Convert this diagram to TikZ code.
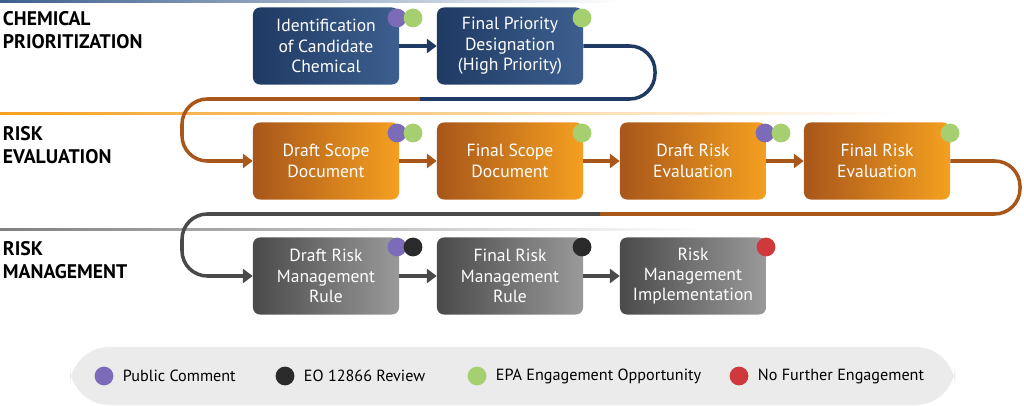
\documentclass[tikz,border=0pt]{standalone}
\usepackage{fontspec}
\setmainfont{PT Sans}
\usetikzlibrary{arrows.meta}
\definecolor{blueA}{HTML}{1F3A63}
\definecolor{blueB}{HTML}{3D5F8F}
\definecolor{orangeA}{HTML}{A8561A}
\definecolor{orangeB}{HTML}{F5A020}
\definecolor{greyA}{HTML}{4A4A4A}
\definecolor{greyB}{HTML}{9A9A9A}
\definecolor{pubcol}{HTML}{7B6BB8}
\definecolor{epacol}{HTML}{A6D06F}
\definecolor{eocol}{HTML}{2A2A2A}
\definecolor{nocol}{HTML}{D0393B}
\tikzset{
    stage/.style={rounded corners=5pt, minimum width=3.65cm, minimum height=1.925cm,
        align=center, text=white, font=\fontsize{12.5}{14.5}\selectfont, shading angle=135},
    blue stage/.style={stage, left color=blueA, right color=blueB},
    orange stage/.style={stage, left color=orangeA, right color=orangeB},
    grey stage/.style={stage, left color=greyA, right color=greyB},
    dot/.style={circle, fill=#1, inner sep=0pt, minimum size=0.47cm},
    flow/.style={line width=2.5pt, rounded corners=18pt, -{Triangle[length=7pt,width=10pt]}},
    head/.style={anchor=north west, align=left, font=\bfseries\fontsize{14}{17}\selectfont},
    legend/.style={anchor=west, font=\fontsize{11.5}{13}\selectfont}
}
\begin{document}
\begin{tikzpicture}[x=0.025cm, y=-0.025cm]
    \useasboundingbox (0, 0) rectangle (1024, 406);

    % section rules
    \shade[left color=blueB, right color=white] (0, 0) rectangle (620, 2.5);
    \shade[left color=orangeB, right color=white] (0, 113) rectangle (900, 115);
    \shade[left color=greyA!70, right color=white] (0, 229) rectangle (700, 231);

    \node[head] (hcp) at (-2, 6) {CHEMICAL\\PRIORITIZATION};
    \node[head] (hre) at (-2, 121) {RISK\\EVALUATION};
    \node[head] (hrm) at (-2, 236) {RISK\\MANAGEMENT};

    % stages
    \node[blue stage] (ident) at (326, 46) {Identification\\of Candidate\\Chemical};
    \node[blue stage] (prio) at (510, 46) {Final Priority\\Designation\\(High Priority)};
    \node[orange stage] (dscope) at (326, 161) {Draft Scope\\Document};
    \node[orange stage] (fscope) at (510, 161) {Final Scope\\Document};
    \node[orange stage] (drisk) at (693, 161) {Draft Risk\\Evaluation};
    \node[orange stage] (frisk) at (877, 161) {Final Risk\\Evaluation};
    \node[grey stage] (drule) at (326, 276) {Draft Risk\\Management\\Rule};
    \node[grey stage] (frule) at (510, 276) {Final Risk\\Management\\Rule};
    \node[grey stage] (impl) at (693, 276) {Risk\\Management\\Implementation};

    % arrows
    \draw[flow, blueA] (ident) -- (prio);
    \draw[flow, orangeA] (dscope) -- (fscope);
    \draw[flow, orangeA] (fscope) -- (drisk);
    \draw[flow, orangeA] (drisk) -- (frisk);
    \draw[flow, greyA] (drule) -- (frule);
    \draw[flow, greyA] (frule) -- (impl);

    \coordinate (t1) at (655, 46);
    \coordinate (t2) at (655, 99);
    \coordinate (tm) at (420, 99);
    \coordinate (t3) at (182, 99);
    \coordinate (t4) at (182, 161);
    \draw[flow, blueA, -] (prio.east) -- (t1) -- (t2) -- (tm);
    \draw[flow, orangeA] (tm) -- (t3) -- (t4) -- (dscope.west);

    \coordinate (u1) at (1020, 161);
    \coordinate (u2) at (1020, 214);
    \coordinate (um) at (600, 214);
    \coordinate (u3) at (182, 214);
    \coordinate (u4) at (182, 276);
    \draw[flow, orangeA, -] (frisk.east) -- (u1) -- (u2) -- (um);
    \draw[flow, greyA] (um) -- (u3) -- (u4) -- (drule.west);

    % engagement dots
    \node[dot=pubcol] (p1) at (397, 18) {};
    \node[dot=epacol] (g1) at (413, 18) {};
    \node[dot=epacol] (g2) at (582, 18) {};
    \node[dot=pubcol] (p3) at (397, 133) {};
    \node[dot=epacol] (g3) at (413, 133) {};
    \node[dot=epacol] (g4) at (582, 133) {};
    \node[dot=pubcol] (p5) at (765, 133) {};
    \node[dot=epacol] (g5) at (781, 133) {};
    \node[dot=epacol] (g6) at (950, 133) {};
    \node[dot=pubcol] (p7) at (397, 247) {};
    \node[dot=eocol] (e7) at (413, 247) {};
    \node[dot=eocol] (e8) at (582, 247) {};
    \node[dot=nocol] (n9) at (766, 247) {};

    % legend
    \fill[black!8, rounded corners=28pt] (70, 347) rectangle (955, 405);
    \node[dot=pubcol] (lp) at (104, 376) {};
    \node[legend] (lpt) at (118, 376) {Public Comment};
    \node[dot=eocol] (le) at (285, 376) {};
    \node[legend] (let) at (299, 376) {EO 12866 Review};
    \node[dot=epacol] (lg) at (477, 376) {};
    \node[legend] (lgt) at (491, 376) {EPA Engagement Opportunity};
    \node[dot=nocol] (ln) at (739, 376) {};
    \node[legend] (lnt) at (753, 376) {No Further Engagement};
\end{tikzpicture}
\end{document}
